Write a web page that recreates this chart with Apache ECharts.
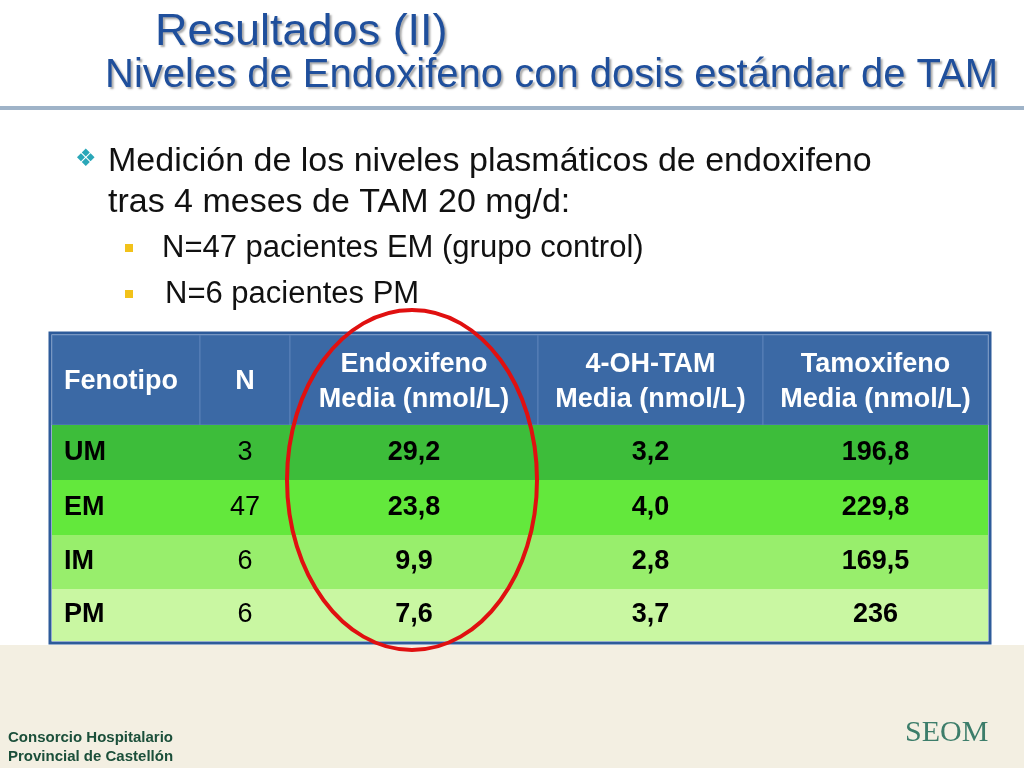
<!DOCTYPE html>
<html><head><meta charset="utf-8">
<script src="https://cdn.jsdelivr.net/npm/echarts@6/dist/echarts.min.js"></script>
<style>html,body{margin:0;padding:0;background:#fff}#main{width:1024px;height:768px}</style>
</head><body><div id="main"></div>
<script>
var headers = ['Fenotipo', 'N', 'Endoxifeno\nMedia (nmol/L)', '4-OH-TAM\nMedia (nmol/L)', 'Tamoxifeno\nMedia (nmol/L)'];
var fenotipos = ['UM', 'EM', 'IM', 'PM'];
var nPacientes = ['3', '47', '6', '6'];
var endoxifeno = ['29,2', '23,8', '9,9', '7,6'];
var ohTam = ['3,2', '4,0', '2,8', '3,7'];
var tamoxifeno = ['196,8', '229,8', '169,5', '236'];

// layout of the table (column edges in px inside the grid, row edges)
var colEdges = [0, 148, 238, 486, 711, 936];
var rowEdges = [0, 90, 145, 200, 254, 306];
var rowColors = ['#3b69a5', '#3dbd3a', '#63e83c', '#98ee6c', '#c9f7a2'];
var FONT = '"Liberation Sans", Arial, sans-serif';

var myChart = echarts.init(document.getElementById('main'));

var cells = [];
var cols = [fenotipos, nPacientes, endoxifeno, ohTam, tamoxifeno];
for (var c = 0; c < 5; c++) {
    cells.push([c, 0, headers[c]]);
    for (var r = 0; r < 4; r++) cells.push([c, r + 1, cols[c][r]]);
}

function renderCell(params, api) {
    var c = api.value(0), r = api.value(1);
    var p0 = api.coord([colEdges[c], rowEdges[r]]);
    var p1 = api.coord([colEdges[c + 1], rowEdges[r + 1]]);
    var header = r === 0;
    var text = cells[params.dataIndex][2];
    return {
        type: 'group',
        children: [{
            type: 'rect',
            shape: { x: p0[0], y: p0[1], width: p1[0] - p0[0], height: p1[1] - p0[1] },
            style: { fill: rowColors[r], stroke: header ? '#5a82b8' : rowColors[r], lineWidth: header ? 1 : 0 }
        }, {
            type: 'text',
            x: c === 0 ? p0[0] + 12 : (p0[0] + p1[0]) / 2,
            y: (p0[1] + p1[1]) / 2 + (header ? 2 : 0),
            style: {
                text: text, align: c === 0 ? 'left' : 'center', verticalAlign: 'middle',
                fill: header ? '#ffffff' : '#000000',
                font: ((header || c !== 1) ? 'bold ' : '') + '27px ' + FONT,
                lineHeight: 35
            }
        }]
    };
}

var option = {
    animation: false,
    grid: { left: 52, top: 335, width: 936, height: 306 },
    xAxis: { type: 'value', min: 0, max: 936, show: false },
    yAxis: { type: 'value', min: 0, max: 306, inverse: true, show: false },
    series: [{
        type: 'custom',
        renderItem: renderCell,
        data: cells.map(function (d) { return [d[0], d[1]]; })
    }],
    graphic: [
        { type: 'rect', shape: { x: 0, y: 645, width: 1024, height: 123 }, style: { fill: '#f3efe2' }, z: -10 },
        { type: 'rect', shape: { x: 50, y: 333, width: 940, height: 310 }, style: { fill: 'none', stroke: '#2d5b9a', lineWidth: 3 } },
        { type: 'text', left: 155, top: 10, style: { text: 'Resultados (II)', font: '45px ' + FONT, fill: '#1f4f9c', textShadowColor: '#aaa', textShadowOffsetX: 2, textShadowOffsetY: 2, textShadowBlur: 2 } },
        { type: 'text', left: 105, top: 56, style: { text: 'Niveles de Endoxifeno con dosis estándar de TAM', font: '40px ' + FONT, fill: '#1f4f9c', textShadowColor: '#aaa', textShadowOffsetX: 2, textShadowOffsetY: 2, textShadowBlur: 2 } },
        { type: 'rect', shape: { x: 0, y: 106, width: 1024, height: 4 }, style: { fill: '#9fb3c8' } },
        { type: 'text', left: 75, top: 148, style: { text: '❖', font: '24px "DejaVu Sans"', fill: '#2aa7b8' } },
        { type: 'text', left: 108, top: 141, style: { text: 'Medición de los niveles plasmáticos de endoxifeno\ntras 4 meses de TAM 20 mg/d:', font: '34px ' + FONT, fill: '#111', lineHeight: 41 } },
        { type: 'rect', shape: { x: 125, y: 244, width: 8, height: 8 }, style: { fill: '#f2c21a' } },
        { type: 'text', left: 162, top: 233, style: { text: 'N=47 pacientes EM (grupo control)', font: '31px ' + FONT, fill: '#111' } },
        { type: 'rect', shape: { x: 125, y: 290, width: 8, height: 8 }, style: { fill: '#f2c21a' } },
        { type: 'text', left: 165, top: 279, style: { text: 'N=6 pacientes PM', font: '31px ' + FONT, fill: '#111' } },
        { type: 'ellipse', shape: { cx: 412, cy: 480, rx: 125, ry: 170 }, style: { fill: 'none', stroke: '#e01010', lineWidth: 4 }, z: 100 },
        { type: 'text', left: 8, top: 728, style: { text: 'Consorcio Hospitalario\nProvincial de Castellón', font: 'bold 15px ' + FONT, fill: '#1b4f3a', lineHeight: 19 } },
        { type: 'text', left: 905, top: 718, style: { text: 'SEOM', font: '30px "Liberation Serif", serif', fill: '#3c7d6a' } }
    ]
};

myChart.setOption(option);
</script>
</body></html>
